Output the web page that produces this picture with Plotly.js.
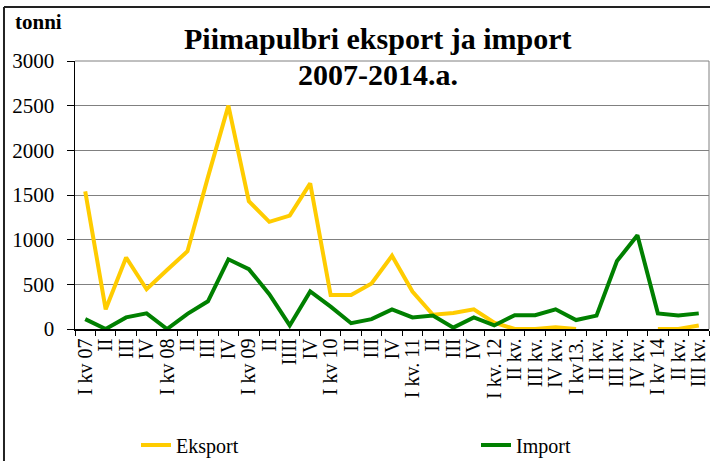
<!DOCTYPE html>
<html>
<head>
<meta charset="utf-8">
<script src="https://cdn.plot.ly/plotly-3.0.1.min.js"></script>
<style>html,body{margin:0;padding:0;background:#fff;}#chart{width:710px;height:461px;}</style>
</head>
<body>
<div id="chart"></div>
<script>
const categories = ["I kv 07","II","III","IV","I kv 08","II","III","IV","I kv 09","II","IIII","IV","I kv 10","II","III","IV","I kv. 11","II","III","IV","I kv. 12","II kv.","III kv.","IV kv.","I kv13.","II kv.","III kv.","IV kv.","I kv 14","II kv.","III kv."];
const eksport = [1540,220,800,445,660,870,1700,2500,1430,1200,1270,1630,380,380,510,820,420,160,180,220,70,0,0,20,0,null,null,null,0,0,40];
const importVals = [110,0,130,175,0,170,310,780,670,390,40,420,250,65,110,220,130,150,15,130,40,155,155,220,100,150,760,1050,175,150,175];
const yTicks = [0,500,1000,1500,2000,2500,3000];
const titleLines = ["Piimapulbri eksport ja import", "2007-2014.a."];

const xIdx = categories.map((_, i) => i);
const serif = "Liberation Serif, Times New Roman, serif";

const traces = [
  {x: xIdx, y: eksport, name: "Eksport", type: "scatter", mode: "lines",
   line: {color: "#FFCC00", width: 4}, connectgaps: false, legend: "legend"},
  {x: xIdx, y: importVals, name: "Import", type: "scatter", mode: "lines",
   line: {color: "#008000", width: 4}, legend: "legend2"}
];

const legendBase = {orientation: "h", xanchor: "left", xref: "container", yref: "container",
  y: 1 - 445/461, yanchor: "middle",
  font: {family: serif, size: 20, color: "#000"}, bgcolor: "rgba(0,0,0,0)"};

const layout = {
  width: 710, height: 461,
  margin: {l: 75, r: 1, t: 61, b: 132},
  paper_bgcolor: "#fff", plot_bgcolor: "#fff",
  font: {family: serif, color: "#000", size: 19},
  showlegend: true,
  legend: Object.assign({}, legendBase, {x: 136/710}),
  legend2: Object.assign({}, legendBase, {x: 476/710}),
  xaxis: {
    range: [-0.5, categories.length - 0.5], tickmode: "array", tickvals: xIdx, ticktext: categories,
    tickangle: -90, ticks: "", showgrid: false, zeroline: false, automargin: false,
    showline: true, linecolor: "#000", linewidth: 1.5, mirror: false,
    tickfont: {family: serif, size: 20, color: "#000"},
    minor: {ticks: "outside", tick0: -0.5, dtick: 1, ticklen: 5, tickcolor: "#000", tickwidth: 1, showgrid: false},
    fixedrange: true
  },
  yaxis: {
    range: [0, 3000], tickmode: "array", tickvals: yTicks, ticktext: yTicks.map(String),
    ticks: "outside", ticklen: 7, tickcolor: "#000", tickwidth: 1, ticklabelstandoff: 8,
    showgrid: true, gridcolor: "#808080", gridwidth: 1, zeroline: false, automargin: false,
    showline: true, linecolor: "#000", linewidth: 1.5,
    tickfont: {family: serif, size: 21, color: "#000"},
    fixedrange: true
  },
  shapes: [
    {type: "line", xref: "paper", yref: "paper", x0: 0, x1: 1, y0: 1, y1: 1, line: {color: "#808080", width: 1}},
    {type: "line", xref: "paper", yref: "paper", x0: 1, x1: 1, y0: 0, y1: 1, line: {color: "#808080", width: 1}},
    {type: "line", xref: "paper", yref: "paper", x0: -0.112, x1: -0.112, y0: -0.6, y1: 1.2015, line: {color: "#222", width: 2}},
    {type: "line", xref: "paper", yref: "paper", x0: -0.112, x1: 1.02, y0: 1.2015, y1: 1.2015, line: {color: "#222", width: 2}}
  ],
  annotations: [
    {text: "<b>" + titleLines[0] + "</b>", xref: "paper", yref: "paper", x: 0.478, y: 1.0858, xanchor: "center", yanchor: "middle",
     showarrow: false, font: {family: serif, size: 30, color: "#000"}},
    {text: "<b>" + titleLines[1] + "</b>", xref: "paper", yref: "paper", x: 0.478, y: 0.9478, xanchor: "center", yanchor: "middle",
     showarrow: false, font: {family: serif, size: 30, color: "#000"}},
    {text: "<b>tonni</b>", xref: "paper", yref: "paper", x: -0.058, y: 1.146, xanchor: "center", yanchor: "middle",
     showarrow: false, font: {family: serif, size: 21, color: "#000"}}
  ]
};

Plotly.newPlot("chart", traces, layout, {displayModeBar: false, staticPlot: true});
</script>
</body>
</html>
